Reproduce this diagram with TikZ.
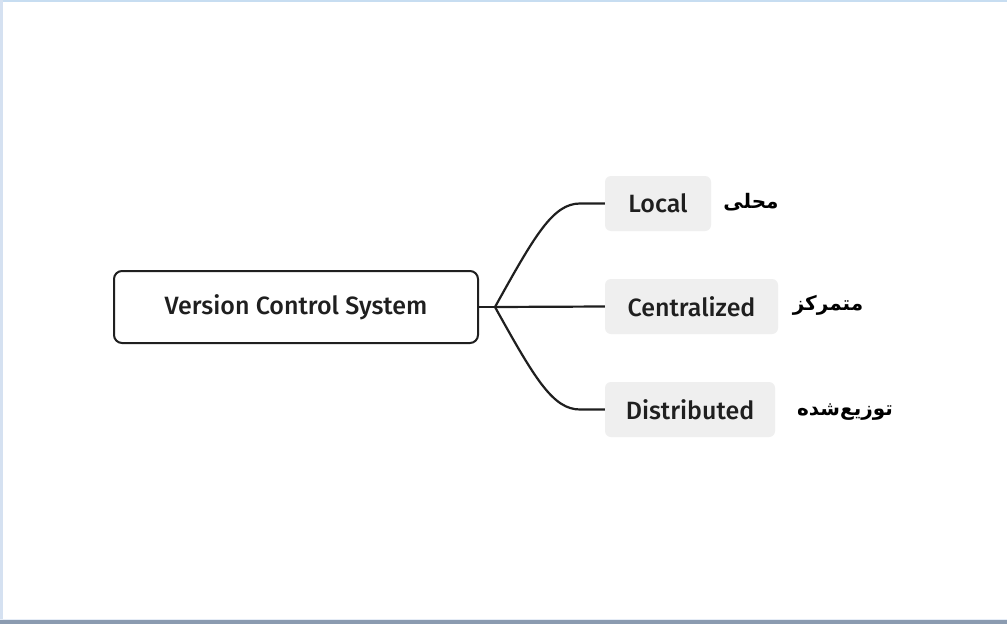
\documentclass[tikz,border=0pt]{standalone}
\usepackage{fontspec}
\TeXXeTstate=1
\newfontfamily\labelfont{Fira Sans Medium}
\newfontfamily\arabicfont[Script=Arabic]{DejaVu Sans}
\definecolor{linec}{HTML}{1F1F1F}
\definecolor{leaffill}{HTML}{EFEFEF}
\definecolor{topb}{HTML}{C7DDF1}
\definecolor{leftb}{HTML}{D5E1F1}
\definecolor{botb}{HTML}{8B9BB0}
\begin{document}
\begin{tikzpicture}[x=1pt,y=-1pt,
  rootbox/.style={draw=linec, line width=2pt, rounded corners=8pt, fill=white,
    minimum width=364pt, minimum height=72pt, font=\labelfont\fontsize{25}{30}\selectfont, text=linec},
  leaf/.style={fill=leaffill, rounded corners=6pt, minimum height=55pt,
    font=\labelfont\fontsize{25}{30}\selectfont, text=linec},
  fa/.style={font=\arabicfont\bfseries\fontsize{20}{24}\selectfont, text=black},
  conn/.style={draw=linec, line width=2.2pt}]
\useasboundingbox (0,0) rectangle (1007,624);
\fill[white] (0,0) rectangle (1007,624);
\fill[topb] (0,0) rectangle (1007,1.5);
\fill[leftb] (0,0) rectangle (3,624);
\fill[botb] (0,620) rectangle (1007,624);
\fill[leftb!60] (0,618.5) rectangle (1007,620);

\node[rootbox] (root) at (296,307) {Version Control System};
\node[leaf, minimum width=106pt] (local) at (658,203.5) {Local};
\node[leaf, minimum width=173pt] (cent) at (691.5,306.5) {Centralized};
\node[leaf, minimum width=170pt] (dist) at (690,409.5) {Distributed};

\node[fa] (falocal) at (751,202) {\beginR محلی\endR};
\node[fa] (facent) at (828,305) {\beginR متمرکز\endR};
\node[fa] (fadist) at (845,412) {\beginR توزیع‌شده\endR};

\coordinate (hub) at (495,307);
\draw[conn] (root.east) -- (hub);
\draw[conn] (hub) .. controls (535,235) and (553,203.5) .. (580,203.5) -- (local.west);
\draw[conn] (hub) -- (cent.west);
\draw[conn] (hub) .. controls (535,379) and (553,409.5) .. (580,409.5) -- (dist.west);
\end{tikzpicture}
\end{document}
